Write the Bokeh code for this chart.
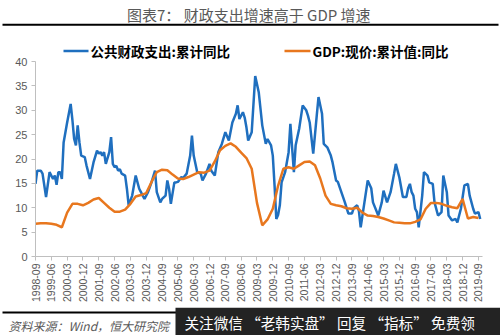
import math
from bokeh.plotting import figure
from bokeh.layouts import column, row
from bokeh.models import Range1d, FixedTicker
from bokeh.core.properties import value
from bokeh.embed import file_html
from bokeh.resources import INLINE

# ---------------- data ----------------
title_text = "图表7：  财政支出增速高于 GDP 增速"
series_names = ["公共财政支出:累计同比", "GDP:现价:累计值:同比"]
source_text = "资料来源：Wind，恒大研究院"
banner_text = "关注微信 “老韩实盘” 回复 “指标” 免费领"

x_tick_labels = ["1998-09", "1999-06", "2000-03", "2000-12", "2001-09", "2002-06",
                 "2003-03", "2003-12", "2004-09", "2005-06", "2006-03", "2006-12",
                 "2007-09", "2008-06", "2009-03", "2009-12", "2010-09", "2011-06",
                 "2012-03", "2012-12", "2013-09", "2014-06", "2015-03", "2015-12",
                 "2016-09", "2017-06", "2018-03", "2018-12", "2019-09"]
y_ticks = [0, 5, 10, 15, 20, 25, 30, 35, 40]

fiscal_dates = ["1998-09", "1998-10", "1998-12", "1999-01", "1999-03", "1999-05", "1999-06",
                "1999-07", "1999-08", "1999-09", "1999-10", "1999-11", "1999-12", "2000-01",
                "2000-03", "2000-05", "2000-06", "2000-07", "2000-08", "2000-09", "2000-10",
                "2000-11", "2001-01", "2001-02", "2001-04", "2001-06", "2001-08", "2001-09",
                "2001-10", "2001-11", "2001-12", "2002-01", "2002-03", "2002-04", "2002-05",
                "2002-06", "2002-07", "2002-08", "2002-09", "2002-10", "2002-12", "2003-01",
                "2003-02", "2003-04", "2003-06", "2003-08", "2003-09", "2003-10", "2003-11",
                "2004-01", "2004-03", "2004-05", "2004-06", "2004-08", "2004-09", "2004-11",
                "2004-12", "2005-01", "2005-02", "2005-04", "2005-05", "2005-06", "2005-08",
                "2005-09", "2005-11", "2006-01", "2006-02", "2006-03", "2006-05", "2006-07",
                "2006-08", "2006-10", "2006-12", "2007-01", "2007-03", "2007-05", "2007-07",
                "2007-09", "2007-11", "2008-01", "2008-03", "2008-04", "2008-05", "2008-07",
                "2008-08", "2008-09", "2008-10", "2008-12", "2009-02", "2009-04", "2009-06",
                "2009-08", "2009-09", "2009-11", "2009-12", "2010-01", "2010-02", "2010-03",
                "2010-04", "2010-05", "2010-07", "2010-09", "2010-10", "2010-12", "2011-01",
                "2011-03", "2011-05", "2011-07", "2011-08", "2011-09", "2011-11", "2012-01",
                "2012-02", "2012-04", "2012-05", "2012-07", "2012-09", "2012-10", "2012-12",
                "2013-01", "2013-03", "2013-05", "2013-07", "2013-09", "2013-10", "2013-12",
                "2014-01", "2014-02", "2014-04", "2014-06", "2014-08", "2014-09", "2014-12",
                "2015-02", "2015-03", "2015-05", "2015-07", "2015-09", "2015-10", "2015-12",
                "2016-02", "2016-04", "2016-05", "2016-06", "2016-07", "2016-08", "2016-09",
                "2016-10", "2016-11", "2017-01", "2017-02", "2017-04", "2017-05", "2017-07",
                "2017-08", "2017-10", "2017-12", "2018-01", "2018-03", "2018-04", "2018-06",
                "2018-08", "2018-09", "2018-11", "2019-01", "2019-03", "2019-04", "2019-06",
                "2019-07", "2019-09", "2019-10"]
fiscal_values = [14.9, 17.6, 17.6, 17.0, 12.2, 17.3, 16.6,
                 15.9, 16.6, 14.7, 17.3, 17.3, 15.9, 23.4,
                 27.5, 31.3, 28.0, 24.1, 22.8, 26.9, 23.4,
                 20.7, 20.4, 18.7, 15.9, 19.3, 21.7, 21.1,
                 21.4, 20.7, 21.4, 19.0, 21.4, 24.5, 19.0,
                 18.3, 18.6, 17.6, 17.9, 17.0, 16.6, 13.9,
                 10.5, 12.5, 16.6, 13.9, 13.2, 12.5, 11.8,
                 13.2, 15.2, 17.6, 13.2, 11.1, 11.8, 12.5,
                 15.6, 13.9, 10.8, 15.2, 15.2, 15.3, 16.3,
                 16.1, 17.0, 20.7, 24.8, 20.7, 17.3, 17.0,
                 15.6, 17.0, 19.0, 17.6, 16.6, 21.4, 23.1,
                 25.5, 23.8, 27.5, 29.3, 31.0, 28.2, 29.6,
                 28.5, 26.5, 23.8, 25.5, 37.0, 33.7, 26.9,
                 23.1, 24.1, 22.8, 20.7, 14.6, 7.7, 8.5,
                 10.5, 15.2, 17.3, 21.4, 27.2, 17.3, 22.8,
                 26.2, 31.0, 30.0, 28.9, 27.5, 21.1, 28.9,
                 32.7, 29.3, 23.1, 22.4, 20.7, 19.3, 15.6,
                 15.3, 13.2, 11.1, 8.8, 8.8, 9.9, 10.5,
                 9.3, 6.0, 10.8, 15.6, 14.0, 11.1, 8.4,
                 11.1, 13.5, 11.1, 13.2, 17.0, 19.0, 16.2,
                 12.2, 12.2, 14.0, 14.9, 13.2, 12.5, 9.8,
                 9.1, 6.0, 12.5, 17.3, 16.6, 15.2, 14.9,
                 11.1, 8.4, 9.1, 16.6, 13.2, 8.4, 7.4,
                 7.7, 7.0, 9.8, 14.6, 14.9, 12.5, 9.8,
                 8.8, 9.1, 7.7]

gdp_dates = ["1998-09", "1998-12", "1999-03", "1999-06", "1999-09", "1999-12", "2000-03",
             "2000-06", "2000-09", "2000-12", "2001-03", "2001-06", "2001-09", "2001-12",
             "2002-03", "2002-06", "2002-09", "2002-12", "2003-03", "2003-06", "2003-09",
             "2003-12", "2004-03", "2004-06", "2004-09", "2004-12", "2005-03", "2005-06",
             "2005-09", "2005-12", "2006-03", "2006-06", "2006-09", "2006-12", "2007-03",
             "2007-06", "2007-09", "2007-12", "2008-03", "2008-06", "2008-09", "2008-12",
             "2009-03", "2009-06", "2009-09", "2009-12", "2010-03", "2010-06", "2010-09",
             "2010-12", "2011-03", "2011-06", "2011-09", "2011-12", "2012-03", "2012-06",
             "2012-09", "2012-12", "2013-03", "2013-06", "2013-09", "2013-12", "2014-03",
             "2014-06", "2014-09", "2014-12", "2015-03", "2015-06", "2015-09", "2015-12",
             "2016-03", "2016-06", "2016-09", "2016-12", "2017-03", "2017-06", "2017-09",
             "2017-12", "2018-03", "2018-06", "2018-09", "2018-12", "2019-03", "2019-06",
             "2019-09"]
gdp_values = [6.7, 6.8, 6.8, 6.7, 6.5, 6.0, 9.0,
              10.8, 10.8, 10.5, 11.0, 11.7, 12.0, 11.0,
              10.0, 9.2, 9.2, 9.6, 10.8, 12.3, 12.6,
              13.0, 15.3, 17.3, 17.8, 17.7, 16.8, 16.0,
              15.9, 16.3, 16.8, 17.3, 17.2, 17.6, 19.5,
              21.8, 22.7, 23.2, 22.5, 21.3, 20.2, 18.0,
              11.0, 6.4, 7.6, 9.8, 14.5, 18.0, 18.3,
              18.0, 18.7, 19.4, 19.5, 18.7, 16.0, 12.5,
              10.8, 10.5, 10.3, 9.9, 9.8, 10.0, 9.0,
              8.4, 8.3, 8.1, 7.8, 7.4, 7.0, 6.9,
              6.8, 6.8, 7.1, 7.6, 9.8, 11.0, 11.0,
              10.8, 10.4, 10.1, 9.9, 11.8, 7.8, 8.1,
              7.9]

# ---------------- styles / layout ----------------
BLUE = "#1F6FBF"
ORANGE = "#E8771E"
GRAY_TXT = "#595959"
AXIS_GRAY = "#BFBFBF"
CJK = "Noto Sans CJK SC"
W = 500
TOP_H, MAIN_H, BOT_H = 32, 275, 28
FL, FR = 35, 482                 # frame left/right (canvas px)
FT, FB = 32, 256                 # frame top/bottom (canvas px)
X1 = 254.3                       # months shown
Y_AXIS_TOP = 40.0
PX_PER_UNIT = 195 / 40.0
Y1 = (FB - FT) / PX_PER_UNIT     # range top so that 40 sits at canvas y = 61


def month_index(s):
    y, m = s.split("-")
    return (int(y) - 1998) * 12 + int(m) - 9


def mx(px):   # canvas x -> month coordinate
    return (px - FL) / (FR - FL) * X1


def vy(py):   # canvas y -> value coordinate
    return (FB - py) / PX_PER_UNIT


def blank(height, y0, y1):
    f = figure(width=W, height=height, x_range=Range1d(0, W), y_range=Range1d(y0, y1),
               toolbar_location=None, output_backend="svg", min_border=0,
               x_axis_location=None, y_axis_location=None)
    f.grid.visible = False
    f.outline_line_color = None
    f.background_fill_color = "white"
    f.border_fill_color = "white"
    return f


# ---- top: title and rule ----
top = blank(TOP_H, TOP_H, 0)
top.text(x=[250], y=[13.5], text=[title_text], text_font=value(CJK), text_font_size="15px",
         text_color=GRAY_TXT, text_align="center", text_baseline="middle")
top.segment(x0=[2], y0=[24.3], x1=[498], y1=[24.3], line_color="black", line_width=2)

# ---- main chart ----
p = figure(width=W, height=MAIN_H, x_range=Range1d(0, X1), y_range=Range1d(0, Y1),
           toolbar_location=None, output_backend="svg",
           min_border_left=FL, min_border_right=W - FR, min_border_top=0,
           min_border_bottom=TOP_H + MAIN_H - FB)
p.grid.visible = False
p.outline_line_color = None
p.background_fill_color = "white"
p.border_fill_color = "white"

tick_pos = [month_index(s) for s in x_tick_labels]
p.xaxis.ticker = FixedTicker(ticks=tick_pos)
p.xaxis.major_label_overrides = {t: s for t, s in zip(tick_pos, x_tick_labels)}
p.xaxis.major_label_orientation = math.pi / 2
p.yaxis.ticker = FixedTicker(ticks=y_ticks)
p.yaxis.bounds = (0, Y_AXIS_TOP)
for ax in (p.xaxis, p.yaxis):
    ax.axis_line_color = AXIS_GRAY
    ax.major_tick_line_color = AXIS_GRAY
    ax.minor_tick_line_color = None
    ax.major_tick_in = 0
    ax.major_tick_out = 4
    ax.major_label_text_color = GRAY_TXT
    ax.major_label_text_font = "Liberation Sans"
p.xaxis.major_label_text_font_size = "10.5px"
p.xaxis.major_label_standoff = 3
p.yaxis.major_label_text_font_size = "11px"
p.yaxis.major_label_standoff = 4

p.line([month_index(s) for s in fiscal_dates], fiscal_values, line_color=BLUE, line_width=2.5)
p.line([month_index(s) for s in gdp_dates], gdp_values, line_color=ORANGE, line_width=2.5)

# legend (drawn above the 40 line, inside the frame)
LEG_Y = vy(50.5)
p.segment(x0=[mx(63)], y0=[LEG_Y], x1=[mx(88)], y1=[LEG_Y], line_color=BLUE, line_width=2.5)
p.text(x=[mx(90)], y=[LEG_Y], text=[series_names[0]], text_font=value(CJK),
       text_font_size="13.5px", text_font_style="bold", text_color="black",
       text_baseline="middle")
p.segment(x0=[mx(284)], y0=[LEG_Y], x1=[mx(310)], y1=[LEG_Y], line_color=ORANGE, line_width=2.5)
p.text(x=[mx(312)], y=[LEG_Y], text=[series_names[1]], text_font=value(CJK),
       text_font_size="13.5px", text_font_style="bold", text_color="black",
       text_baseline="middle")

# ---- bottom: source + banner ----
bot = blank(BOT_H, 335, 307)
bot.segment(x0=[2], y0=[312], x1=[498], y1=[312], line_color="black", line_width=2)
bot.text(x=[8], y=[325], text=[source_text], text_font=value(CJK), text_font_size="12px",
         text_font_style="italic", text_color=GRAY_TXT, text_baseline="middle")
bot.quad(left=[175], right=[500], top=[307], bottom=[335], fill_color="#232323", line_color=None)
bot.text(x=[184], y=[321.5], text=[banner_text], text_font=value(CJK), text_font_size="14.6px",
         text_color="white", text_baseline="middle")

layout = column(top, row(p), bot, spacing=0)
open("out.html", "w").write(file_html(layout, INLINE))
